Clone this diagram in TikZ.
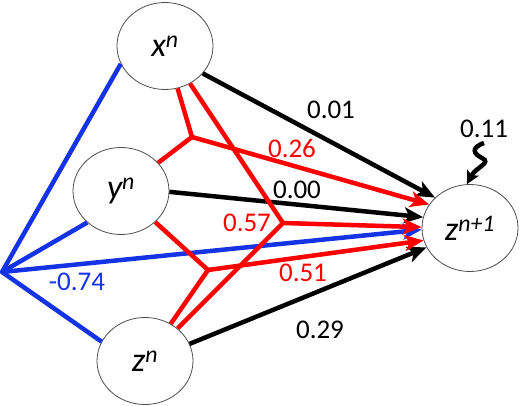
\documentclass[tikz,border=0pt]{standalone}
\usepackage{fontspec}
\setmainfont{Carlito}
\usetikzlibrary{shapes.geometric, arrows.meta, positioning}
\definecolor{linkred}{RGB}{255,0,0}
\definecolor{linkblue}{RGB}{20,50,230}

\begin{document}
\begin{tikzpicture}[x=1pt, y=-1pt,
    var/.style={ellipse, draw=black!70, line width=0.8pt, minimum width=96pt, minimum height=87pt, inner sep=0pt, font=\fontsize{34}{38}\selectfont\itshape},
    weight/.style={font=\fontsize{27}{31}\selectfont, inner sep=0pt},
    arrow/.style={-{Stealth[length=19pt, width=16pt, inset=5pt]}, line width=4.5pt},
    branch/.style={line width=4.5pt, line join=round}
]
\useasboundingbox (0,0) rectangle (520,406);

% variables
\node[var] (xn) at (165,46) {x\textsuperscript{n}};
\node[var] (yn) at (121,191) {y\textsuperscript{n}};
\node[var] (zn) at (145,361) {z\textsuperscript{n}};
\node[var] (zn1) at (470,228) {z\textsuperscript{n+1}};

% junctions
\coordinate (bj) at (2,272);
\coordinate (jxy) at (192,137);
\coordinate (jxz) at (283,223);
\coordinate (jyz) at (208,270);

% blue term
\draw[branch, linkblue] (xn.202) -- (bj) -- (zn.156);
\draw[branch, linkblue] (bj) -- (yn.223);
\draw[arrow, linkblue] (bj) -- (zn1.182);

% linear terms
\draw[arrow] (xn.-36) -- (zn1.139);
\draw[arrow] (yn.-1) -- (zn1.167);
\draw[arrow] (zn.21) -- (zn1.204);

% products
\draw[branch, linkred] (xn) -- (jxy) -- (yn);
\draw[arrow, linkred] (jxy) -- (zn1.150);
\draw[branch, linkred] (xn) -- (jxz) -- (zn);
\draw[arrow, linkred] (jxz) -- (zn1.179);
\draw[branch, linkred] (yn) -- (jyz) -- (zn);
\draw[arrow, linkred] (jyz) -- (zn1.195);

% constant
\node[weight] (w11) at (484,129) {0.11};
\coordinate (noise) at (484,143);
\draw[line width=4.5pt, -{Stealth[length=13pt, width=13pt, inset=3pt]}] (noise) .. controls (470,148) and (474,154) .. (482,158) .. controls (492,163) and (476,167) .. (zn1.94);

% weights
\node[weight] (w01) at (331,110) {0.01};
\node[weight, text=linkred] (w26) at (292,148) {0.26};
\node[weight] (w00) at (297,190) {0.00};
\node[weight, text=linkred] (w57) at (247,223) {0.57};
\node[weight, text=linkblue] (w74) at (77,282) {-0.74};
\node[weight, text=linkred] (w51) at (303,273) {0.51};
\node[weight] (w29) at (320,330) {0.29};
\end{tikzpicture}
\end{document}
